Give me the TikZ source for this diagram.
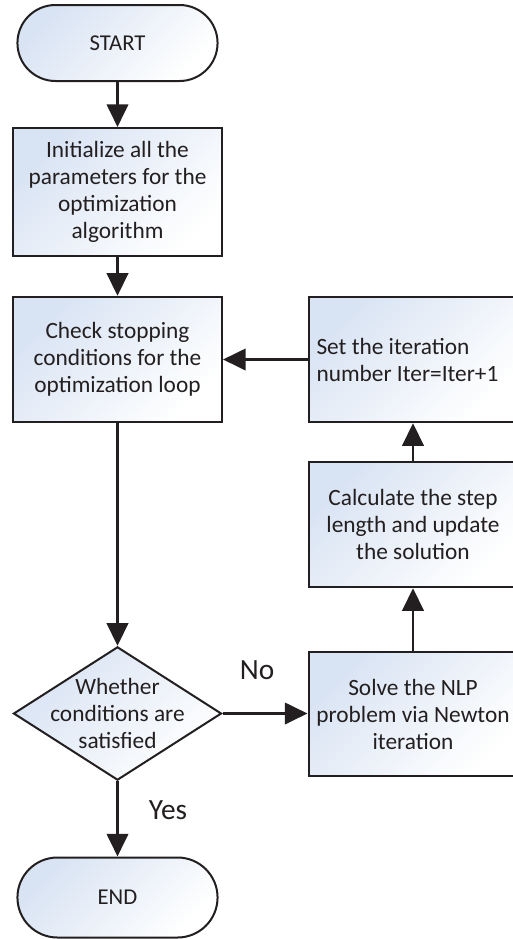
\documentclass[tikz,border=0pt]{standalone}
\usepackage{fontspec}
\setmainfont{Carlito}
\usepackage{tikz}
\usetikzlibrary{arrows.meta,shapes.geometric,shapes.misc}
\definecolor{flowblue}{RGB}{216, 227, 243}
\definecolor{flowline}{RGB}{35, 31, 32}

\begin{document}
\begin{tikzpicture}[x = 0.75pt, y = -0.75pt,
			shaded/.style = {top color = flowblue, middle color = flowblue!25!white, bottom color = white, shading angle = 45},
			term/.style = {rounded rectangle, draw = flowline, line width = 1.5pt, shaded, minimum width = 156.75pt, minimum height = 57pt, text = flowline, font = \fontsize{17}{20}\selectfont},
			box/.style = {rectangle, draw = flowline, line width = 1.5pt, shaded, minimum width = 156.75pt, align = center, minimum height = 94pt, text = flowline, font = \fontsize{17.5}{20.25}\selectfont},
			arr/.style = {draw = flowline, line width = 2.2pt, -{Triangle[length = 17pt, width = 16pt]}},
			lbl/.style = {font = \fontsize{22}{26}\selectfont, text = flowline}]
			\useasboundingbox (0,0) rectangle (512,939);
			\node (start) at (117.5,43) [term] {START};
			\node (init) at (117.5,192) [box, minimum height = 96pt] {Initialize all the\\parameters for the\\optimization\\algorithm};
			\node (check) at (117.5,359.5) [box] {Check stopping\\conditions for the\\optimization loop};
			\node (dec) at (117.5,713.5) [diamond, draw = flowline, line width = 1.5pt, shaded, inner sep = 0pt, minimum width = 156pt, minimum height = 100pt] {};
			\node (dectext) at (dec) [align = center, text = flowline, font = \fontsize{17.5}{20.25}\selectfont] {Whether\\conditions are\\satisfied};
			\node (end) at (117.5,897.5) [term, minimum height = 60pt] {END};
			\node (set) at (413,359.5) [box, align = flush left, text width = 144.75pt, inner xsep = 6pt] {Set the iteration\\number Iter=Iter+1};
			\node (calc) at (413,524.5) [box] {Calculate the step\\length and update\\the solution};
			\node (solve) at (413,714) [box, minimum height = 93pt] {Solve the NLP\\problem via Newton\\iteration};
			\node (no) at (257,670) [lbl] {No};
			\node (yes) at (168,810) [lbl] {Yes};
			\draw[arr] (start) -- (init);
			\draw[arr] (init) -- (check);
			\draw[arr] (check) -- (dec);
			\draw[arr] (dec) -- (end);
			\draw[arr] (dec.east) -- (solve.west |- dec.east);
			\draw[arr] (solve) -- (calc);
			\draw[arr] (calc) -- (set);
			\draw[arr] (set) -- (check);
\end{tikzpicture}
\end{document}
